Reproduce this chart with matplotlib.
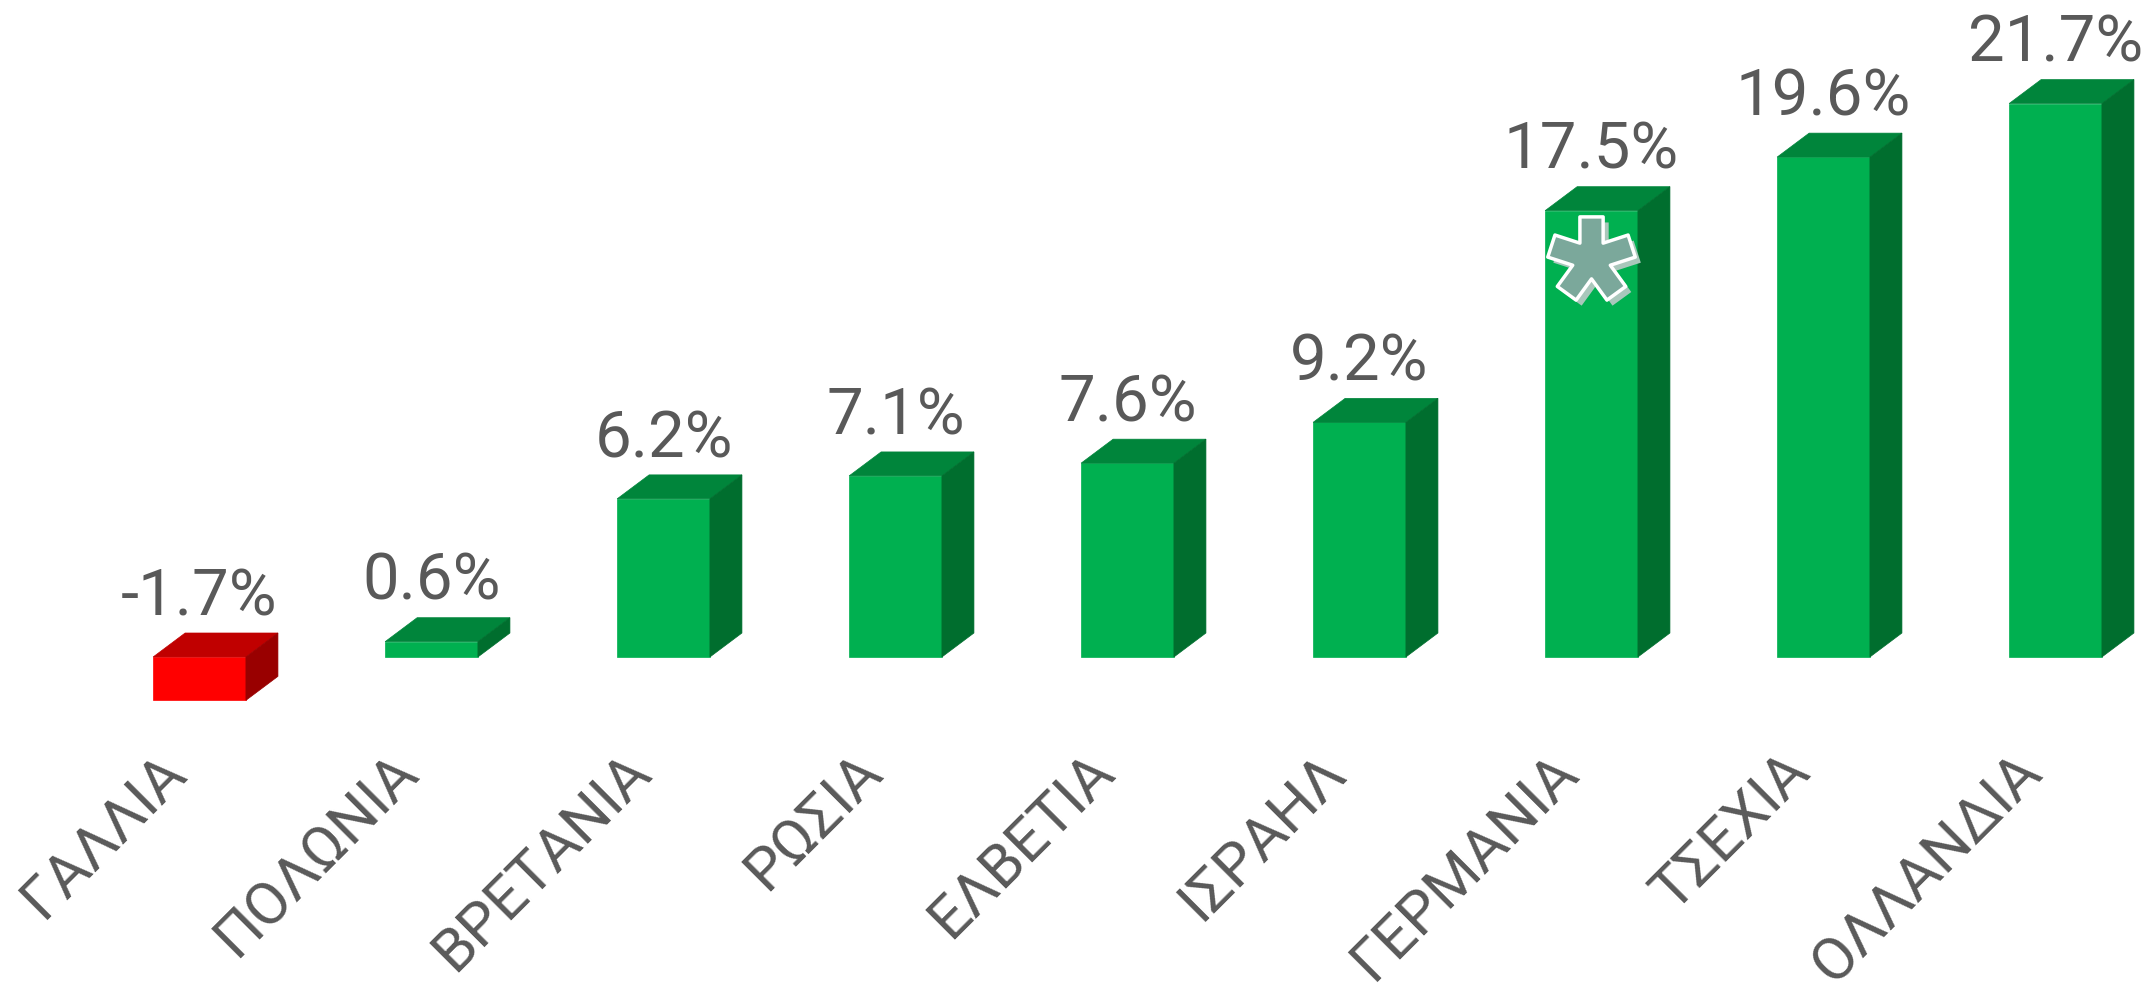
import numpy as np
import matplotlib
matplotlib.use('Agg')
import matplotlib.pyplot as plt
from matplotlib.patches import Polygon, Rectangle
from matplotlib.path import Path
import matplotlib.patheffects as pe

plt.rcParams['font.family'] = ['Roboto', 'DejaVu Sans']

# data
countries = ['ΓΑΛΛΙΑ', 'ΠΟΛΩΝΙΑ', 'ΒΡΕΤΑΝΙΑ', 'ΡΩΣΙΑ', 'ΕΛΒΕΤΙΑ',
             'ΙΣΡΑΗΛ', 'ΓΕΡΜΑΝΙΑ', 'ΤΣΕΧΙΑ', 'ΟΛΛΑΝΔΙΑ']
values = [-1.7, 0.6, 6.2, 7.1, 7.6, 9.2, 17.5, 19.6, 21.7]
starred = ['ΓΕΡΜΑΝΙΑ']

# colours: front, top, side
green = ('#00b050', '#00853b', '#006e2e')
red = ('#ff0000', '#c00000', '#990000')
txt_col = '#595959'

W = 0.40     # front width (x units)
DX = 0.138   # depth offset x
DY = 0.94    # depth offset y

fig = plt.figure(figsize=(21.46, 10), dpi=100)
ax = fig.add_axes([0, 0, 1, 1])
ax.set_xlim(-0.86, 8.39)
ax.set_ylim(-13.45, 25.76)
ax.axis('off')

x = np.arange(len(values))
for xi, v, name in zip(x, values, countries):
    front, topc, side = red if v < 0 else green
    top = max(v, 0)
    bot = min(v, 0)
    l, r = xi - W / 2, xi + W / 2
    ax.add_patch(Rectangle((l, bot), W, top - bot, facecolor=front,
                           edgecolor=front, lw=0.5))
    ax.add_patch(Polygon([(l, top), (r, top), (r + DX, top + DY), (l + DX, top + DY)],
                         closed=True, facecolor=topc, edgecolor=topc, lw=0.5))
    ax.add_patch(Polygon([(r, bot), (r + DX, bot + DY), (r + DX, top + DY), (r, top)],
                         closed=True, facecolor=side, edgecolor=side, lw=0.5))
    # value label
    ax.text(xi, top + DY + 0.7, '%.1f%%' % v, ha='center', va='baseline',
            fontsize=47, color=txt_col)
    # category label
    ax.text(xi - 0.047, -4.6, name, rotation=45, rotation_mode='anchor',
            ha='right', va='baseline', fontsize=43, color=txt_col)

# asterisk marker on the flagged bar
n_arm, L, w = 5, 1.0, 0.55
verts = []
r_in = (w / 2) / np.sin(np.pi / n_arm)
for k in range(n_arm):
    th = np.pi / 2 + 2 * np.pi * k / n_arm
    u = np.array([np.cos(th), np.sin(th)])
    p = np.array([np.cos(th - np.pi / 2), np.sin(th - np.pi / 2)])
    a_in = th - np.pi / n_arm
    verts.append((r_in * np.cos(a_in), r_in * np.sin(a_in)))
    verts.append(tuple(L * u + (w / 2) * p))
    verts.append(tuple(L * u - (w / 2) * p))
verts.append(verts[0])
codes = [Path.MOVETO] + [Path.LINETO] * (len(verts) - 2) + [Path.CLOSEPOLY]
star = Path(verts, codes)

for name in starred:
    i = countries.index(name)
    ax.plot([x[i]], [values[i] - 1.9], marker=star, markersize=63, linestyle='none',
            markerfacecolor='#7ba89b', markeredgecolor='white', markeredgewidth=2.5,
            path_effects=[pe.SimplePatchShadow(offset=(4, -4), shadow_rgbFace='#a9c7bb',
                                               alpha=1.0),
                          pe.Normal()])

fig.savefig('out.png', dpi=100)
